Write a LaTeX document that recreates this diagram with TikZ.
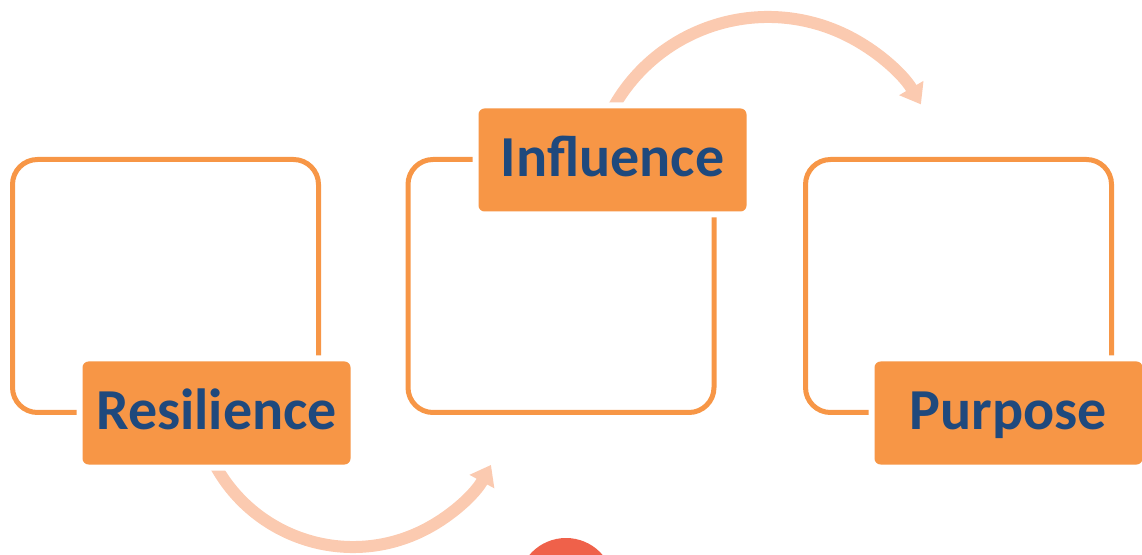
\documentclass[tikz,border=0pt]{standalone}
\usepackage{fontspec}
\setmainfont{Carlito}
\usetikzlibrary{arrows.meta}
\definecolor{boxorange}{HTML}{F79646}
\definecolor{labelblue}{HTML}{1F497D}
\definecolor{peach}{HTML}{FBCAB0}
\definecolor{dotred}{HTML}{EF614A}
\tikzset{
  frame/.style={draw=boxorange, line width=5pt, rounded corners=25pt,
    minimum width=306pt, minimum height=253pt, inner sep=0pt, outer sep=0pt},
  tag/.style={fill=boxorange, rounded corners=6pt, minimum width=268pt,
    minimum height=103pt, inner sep=0pt, outer sep=0pt,
    text=labelblue, font=\fontsize{58}{60}\selectfont\bfseries,
    text height=38pt, text depth=4pt,
    preaction={draw=white, line width=12pt}},
  flow/.style={draw=peach, line width=12pt,
    -{Triangle[length=19pt,width=27pt]}},
}
\begin{document}
\begin{tikzpicture}[x=1pt,y=1pt]
\useasboundingbox (0,0) rectangle (1142,554);
% outline boxes (y = 554 - image y)
\node[frame] (f1) at (165.5,268) {};
\node[frame] (f2) at (561,268) {};
\node[frame] (f3) at (958.5,268) {};
% arrows
\coordinate (c1) at (353,164);
\coordinate (c2) at (768,359.5);
\draw[flow] ([shift={(206:157pt)}]c1) arc[start angle=206, end angle=331.5, radius=157pt] coordinate (e1);
\draw[flow] ([shift={(154:177.5pt)}]c2) arc[start angle=154, end angle=30.5, radius=177.5pt] coordinate (e2);
% labels
\node[tag] (t1) at (216.5,141) {Resilience};
\node[tag] (t2) at (612.5,394) {Influence};
\node[tag] (t3) at (1008.5,141) {Purpose};
% red dot
\fill[dotred] (566,-32) circle[radius=48pt];
\end{tikzpicture}
\end{document}
